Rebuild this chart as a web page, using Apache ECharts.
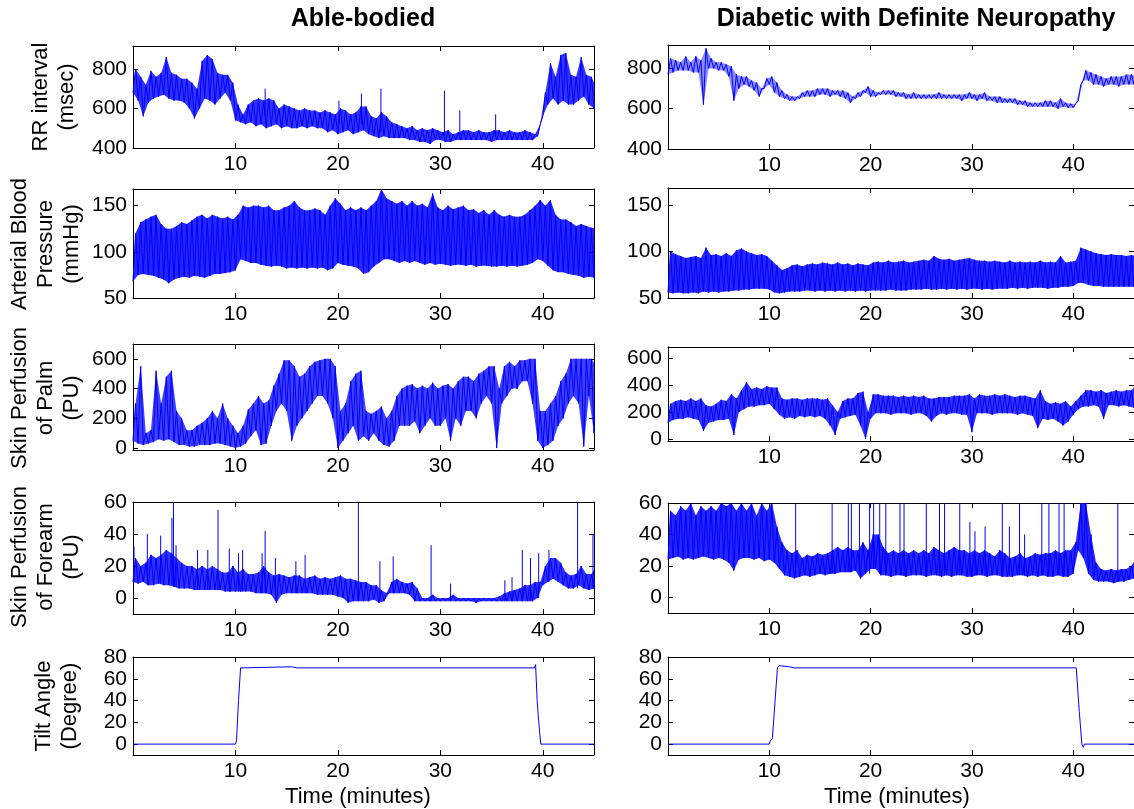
<!DOCTYPE html>
<html><head><meta charset="utf-8">
<script src="https://cdn.jsdelivr.net/npm/echarts@6/dist/echarts.min.js"></script>
<style>html,body{margin:0;padding:0;background:#fff}#c{width:1134px;height:809px}</style>
</head><body><div id="c"></div>
<script>
// ---------------- DATA (sample step 0.5 min) ----------------
const STEP = 0.5;
const xTicks = [10, 20, 30, 40];
const rrTicks = [400, 600, 800];
const bpTicks = [50, 100, 150];
const palmTicks = [0, 200, 400, 600];
const foreTicks = [0, 20, 40, 60];
const tiltTicks = [0, 20, 40, 60, 80];

// RR interval, able-bodied (0..45 min)
const rrAbleLo = [680,640,560,630,650,660,670,650,640,640, 630,600,550,600,650,640,620,650,680,640,
  540,530,520,530,510,520,500,510,520,500, 510,500,500,510,500,510,500,500,480,490,
  470,480,490,470,480,490,470,460,450,460, 450,450,450,450,440,440,430,430,420,440,
  440,430,430,440,440,440,440,440,440,440, 430,440,440,440,440,440,440,440,440,460,
  560,620,650,620,640,620,620,640,660,620, 600];
const rrAbleHi = [800,760,720,790,760,780,860,780,770,750, 750,730,700,840,870,850,780,770,770,730,
  620,570,620,640,650,640,650,640,600,620, 610,600,590,600,590,590,580,590,580,570,
  600,590,570,580,610,610,560,550,580,560, 530,520,510,500,510,490,500,490,500,490,
  480,490,470,480,490,490,480,490,480,480, 490,490,480,490,480,480,490,480,470,520,
  680,830,760,870,880,770,760,860,770,760, 700];
const rrAbleSpikes = [[12.9,560,700],[20.1,520,640],[22.3,520,675],[24.2,480,700],[30.4,460,690],[31.9,460,590],[35.4,460,570]];

// RR interval, diabetic (0..46 min)
const rrDiabLo = [770,780,790,790,790,780,780,620,800,800, 790,790,760,640,700,720,710,690,660,700,
  720,680,660,650,640,640,650,660,660,660, 670,670,660,670,660,650,630,650,660,680,
  660,660,670,670,670,660,660,650,650,650, 650,650,650,650,650,650,650,650,640,650,
  650,640,650,640,640,630,630,630,630,620, 620,610,610,610,610,610,610,600,610,605,
  605,640,740,740,720,720,710,720,720,710, 720,720,720];
const rrDiabHi = [850,840,830,860,830,860,840,900,850,830, 830,820,810,770,760,760,740,730,700,750,
  760,730,690,670,660,660,680,690,690,700, 700,700,690,690,690,680,660,680,690,710,
  690,680,690,690,690,680,680,670,680,670, 670,670,670,680,670,670,670,670,670,680,
  670,670,680,660,660,660,650,650,650,640, 640,630,630,630,640,640,630,650,630,625,
  625,720,790,780,770,760,750,760,760,760, 770,770,760];

// Arterial blood pressure
const bpAbleLo = [68,75,76,75,74,72,70,66,70,72, 73,72,74,73,72,74,76,76,77,78,
  80,92,90,88,88,86,85,84,85,84, 82,83,82,83,82,83,82,83,80,82,
  88,86,85,84,82,76,78,84,88,92, 92,90,88,90,88,90,88,86,88,86,
  87,86,85,86,86,85,86,84,85,85, 84,84,85,84,85,84,85,86,88,92,
  90,85,80,78,78,76,75,74,72,73, 72];
const bpAbleHi = [120,132,135,138,140,130,125,125,128,132, 130,134,138,140,136,140,138,136,138,135,
  140,150,148,150,150,148,150,145,145,148, 150,155,148,145,145,147,145,140,150,158,
  152,145,148,145,148,145,150,155,168,158, 155,152,155,150,155,150,152,148,163,148,
  145,150,146,148,150,145,146,142,145,140, 145,140,138,140,138,138,140,145,150,156,
  150,156,140,135,135,132,128,130,128,126, 125];
const bpDiabLo = [56,55,56,55,55,56,55,57,56,57, 56,57,57,58,58,59,59,60,60,60,
  59,56,55,56,57,57,57,58,58,57, 58,57,58,57,58,57,58,57,58,57,
  58,58,58,58,59,58,58,58,59,59, 59,60,59,59,60,59,60,59,60,59,
  60,60,59,60,59,60,60,60,61,60, 61,60,61,61,61,60,61,61,62,62,
  63,66,66,64,63,63,62,62,62,62, 62,62,62];
const bpDiabHi = [100,97,95,93,94,95,93,104,96,97, 95,98,95,101,103,100,98,96,97,95,
  90,85,80,82,85,86,84,86,87,86, 88,87,86,88,86,87,85,87,86,85,
  88,89,88,90,88,89,90,88,89,90, 91,90,95,92,91,92,90,91,92,93,
  91,90,90,89,90,89,88,90,88,89, 88,89,88,90,88,89,88,95,88,89,
  90,104,102,100,98,97,96,97,96,96, 95,96,95];

// Skin perfusion of palm
const palmAbleLo = [50,30,20,30,40,60,50,60,40,20, 20,10,10,20,20,20,30,30,20,10,
  0,10,30,80,120,20,30,150,250,300, 250,50,150,200,250,300,350,350,300,200,
  0,50,100,150,50,80,50,100,50,20, 10,50,150,150,150,180,100,150,200,150,
  150,200,50,200,150,250,250,200,300,350, 300,0,300,350,400,400,450,450,300,50,
  0,20,50,150,200,300,350,300,10,350, 100];
const palmAbleHi = [300,550,100,120,520,300,480,520,250,200, 120,120,150,170,200,250,200,300,200,150,
  100,150,260,300,350,300,320,420,500,590, 590,550,480,500,550,580,590,600,600,550,
  250,300,450,500,520,250,230,250,280,200, 250,350,400,420,430,400,420,400,440,400,
  420,430,400,450,480,480,450,500,520,550, 550,400,550,580,550,590,590,600,600,250,
  250,300,350,450,500,600,600,600,600,600, 550];
const palmDiabLo = [120,140,150,150,160,150,140,60,120,130, 140,140,150,30,200,220,240,240,250,250,
  260,220,180,150,160,150,170,160,170,160, 170,150,100,30,150,160,170,180,100,0,
  150,190,190,190,180,190,190,190,180,190, 190,170,130,170,190,180,190,190,180,180,
  50,190,190,190,180,190,190,190,190,180, 190,180,170,80,150,140,150,130,100,130,
  180,220,240,240,250,240,150,250,250,240, 250,240,230];
const palmDiabHi = [260,280,290,280,300,280,300,250,240,260, 290,280,330,300,360,420,370,380,370,390,
  380,380,300,290,300,300,290,300,300,300, 290,300,250,200,280,300,300,340,350,200,
  330,330,320,320,320,310,320,310,320,310, 320,300,300,310,310,310,320,320,320,330,
  300,330,320,320,330,320,330,320,310,320, 320,310,300,360,280,260,270,260,280,240,
  280,320,360,360,350,360,340,350,360,350, 360,360,400];

// Skin perfusion of forearm
const foreAbleLo = [10,9,10,8,8,9,8,8,7,6, 6,6,5,5,5,5,5,5,4,4,
  4,4,4,4,3,3,3,2,-3,2, 3,3,3,3,3,3,2,2,2,2,
  1,0,-3,-2,-2,-2,-2,-1,-3,-2, 3,3,3,3,2,-2,-2,-2,-2,-2,
  -2,-2,-2,-2,-2,-2,-2,-3,-2,-2, -2,-2,-2,-2,-2,-2,-2,-2,-2,0,
  8,10,12,10,8,6,6,8,6,5, 6];
const foreAbleHi = [25,20,22,27,25,27,30,28,25,22, 20,20,18,20,18,20,18,16,16,20,
  16,18,15,15,16,20,16,14,15,14, 13,14,14,12,13,14,12,13,12,13,
  14,12,12,11,10,10,8,8,5,3, 10,12,10,9,10,6,0,0,2,0,
  0,0,2,0,0,0,0,0,0,0, 0,1,3,4,5,6,8,8,10,10,
  20,25,25,22,16,14,15,20,15,15, 20];
const foreAbleSpikes = [[0.1,10,32],[1.4,8,40],[2.7,9,39],[3.8,8,50],[3.95,8,60],[4.2,7,33],[6.3,5,30],[7.3,5,30],
  [8.3,5,55],[9.4,4,31],[10.3,4,28],[10.7,4,30],[12.6,3,28],[12.9,3,42],[13.9,2,25],[15.9,3,23],[16.8,3,27],
  [22.0,-2,60],[24.1,-2,23],[25.4,3,26],[29.1,-2,33],[31.0,-2,9],[36.3,-2,11],[37.0,-2,13],[38.0,-2,30],
  [38.8,-2,25],[39.6,0,28],[40.6,10,30],[43.4,6,60],[44.9,6,40]];
const foreDiabLo = [24,25,26,24,25,24,25,26,25,24, 25,24,22,17,24,25,25,24,25,23,
  24,22,18,14,13,12,13,14,13,14, 15,14,15,15,16,16,16,17,12,15,
  18,18,14,14,13,14,14,13,14,14, 14,13,14,14,13,14,13,14,14,13,
  13,14,14,13,14,14,13,13,13,14, 14,13,14,13,14,13,13,14,13,13,
  15,30,25,15,11,10,10,10,9,10, 10,11,12];
const foreDiabHi = [55,52,58,55,60,52,58,55,58,55, 60,58,60,55,60,55,60,52,60,55,
  60,45,35,30,28,30,25,27,26,28, 27,28,30,32,30,32,30,30,35,30,
  40,40,32,28,30,28,30,28,30,28, 30,28,32,30,28,30,32,30,30,28,
  30,28,30,28,26,30,28,25,26,28, 25,26,28,27,28,28,30,28,30,30,
  35,60,60,40,22,18,17,18,17,18, 18,20,25];
const foreDiabSpikes = [[12.6,15,60],[16.2,15,60],[17.8,16,60],[18.1,16,60],[18.9,16,60],[19.9,15,60],[20.3,18,60],
  [20.9,15,60],[21.5,14,60],[22.9,14,60],[23.3,14,60],[25.5,14,60],[26.8,14,60],[27.3,14,60],[28.8,14,60],
  [29.8,14,48],[30.3,14,42],[31.3,14,45],[33.0,14,60],[33.7,14,45],[34.7,14,60],[35.2,14,40],[36.9,14,60],
  [37.6,14,60],[38.6,14,60],[39.1,14,60],[44.4,10,60]];

// Tilt angle [minute, degree]
const tiltAble = [[0,0],[10.0,0],[10.1,3],[10.3,40],[10.5,70],[15.5,71],[16,70],[39.2,70],[39.3,73],[39.45,40],[39.55,27],[39.8,0],[45,0]];
const tiltDiab = [[0,0],[10.0,0],[10.1,3],[10.3,5],[10.45,24],[10.55,25],[10.8,70],[11.0,72],[12,71],[12.5,70],[40.3,70],[40.6,30],[40.85,0],[41,-3],[41.1,0],[46,0]];

// ---------------- LAYOUT ----------------
const FONT = "'Liberation Sans', Arial, sans-serif";
const BLUE = '#0000ff';
const cols = [{left:133, width:461, xMax:45}, {left:668, width:466, xMax:46}];
const panels = [
  {col:0, top:46,  h:102, y:[400,916], ticks:rrTicks,  lo:rrAbleLo,  hi:rrAbleHi,  spikes:rrAbleSpikes, band:0.8},
  {col:1, top:45,  h:104, y:[400,916], ticks:rrTicks,  lo:rrDiabLo,  hi:rrDiabHi, band:0.45},
  {col:0, top:189, h:109, y:[50,168],  ticks:bpTicks,  lo:bpAbleLo,  hi:bpAbleHi, band:0.85},
  {col:1, top:188, h:110, y:[50,168],  ticks:bpTicks,  lo:bpDiabLo,  hi:bpDiabHi, band:0.85},
  {col:0, top:344, h:106, y:[-13,700], ticks:palmTicks, lo:palmAbleLo, hi:palmAbleHi, band:0.75},
  {col:1, top:347, h:94,  y:[-15,680], ticks:palmTicks, lo:palmDiabLo, hi:palmDiabHi, band:0.8},
  {col:0, top:502, h:112, y:[-10,60],  ticks:foreTicks, lo:foreAbleLo, hi:foreAbleHi, spikes:foreAbleSpikes, band:0.8},
  {col:1, top:503, h:110, y:[-10,60],  ticks:foreTicks, lo:foreDiabLo, hi:foreDiabHi, spikes:foreDiabSpikes, band:0.85},
  {col:0, top:657, h:98,  y:[-10,80],  ticks:tiltTicks, line:tiltAble},
  {col:1, top:657, h:98,  y:[-10,80],  ticks:tiltTicks, line:tiltDiab}
];

const grid = [], xAxis = [], yAxis = [], series = [];
function axisCommon(ticks, showLabel, pos) {
  return {
    position: pos,
    axisLine: {show:true, onZero:false, lineStyle:{color:'#000', width:1}},
    axisTick: {show:true, inside:true, length:5, customValues:ticks, lineStyle:{color:'#000'}},
    axisLabel: {show:showLabel, customValues:ticks, color:'#000', fontSize:21, fontFamily:FONT, margin:6},
    splitLine: {show:false}
  };
}
panels.forEach((p, gi) => {
  const c = cols[p.col];
  grid.push({left:c.left, top:p.top, width:c.width, height:p.h, show:false});
  xAxis.push(Object.assign({gridIndex:gi, type:'value', min:0, max:c.xMax}, axisCommon(xTicks, true, 'bottom')));
  xAxis.push(Object.assign({gridIndex:gi, type:'value', min:0, max:c.xMax}, axisCommon(xTicks, false, 'top')));
  yAxis.push(Object.assign({gridIndex:gi, type:'value', min:p.y[0], max:p.y[1]}, axisCommon(p.ticks, true, 'left')));
  yAxis.push(Object.assign({gridIndex:gi, type:'value', min:p.y[0], max:p.y[1]}, axisCommon(p.ticks, false, 'right')));
  const xi = gi * 2, yi = gi * 2;
  if (p.line) {
    series.push({type:'line', xAxisIndex:xi, yAxisIndex:yi, data:p.line, showSymbol:false, symbol:'none',
      lineStyle:{color:BLUE, width:1}, animation:false, silent:true});
    return;
  }
  if (p.band) {
    const lo = p.lo, hi = p.hi, op = p.band;
    series.push({type:'custom', xAxisIndex:xi, yAxisIndex:yi, data:[[0, lo[0]]], animation:false, silent:true, clip:true,
      renderItem: (params, api) => {
        const pts = [];
        for (let i = 0; i < hi.length; i++) pts.push(api.coord([i * STEP + STEP / 2, hi[i]]));
        for (let i = lo.length - 1; i >= 0; i--) pts.push(api.coord([i * STEP, lo[i]]));
        return {type:'polygon', shape:{points:pts}, style:{fill:'rgba(0,0,255,' + op + ')'}};
      }});
  }
  const zig = [];
  for (let i = 0; i < p.lo.length; i++) {
    zig.push([i * STEP, p.lo[i]]);
    zig.push([i * STEP + STEP / 2, p.hi[i]]);
  }
  series.push({type:'line', xAxisIndex:xi, yAxisIndex:yi, data:zig, showSymbol:false, symbol:'none',
    lineStyle:{color:BLUE, width:1}, animation:false, silent:true});
  if (p.spikes) {
    const sd = [];
    p.spikes.forEach(s => { sd.push([s[0], s[1]]); sd.push([s[0], s[2]]); sd.push([s[0], '-']); });
    series.push({type:'line', xAxisIndex:xi, yAxisIndex:yi, data:sd, showSymbol:false, symbol:'none', connectNulls:false,
      lineStyle:{color:BLUE, width:1}, animation:false, silent:true});
  }
});

// texts
const graphic = [];
function txt(x, y, text, size, bold, rot) {
  graphic.push({type:'text', x:x, y:y, rotation: rot ? Math.PI / 2 : 0, silent:true,
    style:{text:text, fontSize:size, fontFamily:FONT, fontWeight: bold ? 'bold' : 'normal', fill:'#000',
      align:'center', verticalAlign:'middle', lineHeight:26}});
}
txt(363, 19, 'Able-bodied', 25, true, false);
txt(916, 19, 'Diabetic with Definite Neuropathy', 25, true, false);
txt(54, 97, 'RR interval\n(msec)', 22, false, true);
txt(46, 244, 'Arterial Blood\nPressure\n(mmHg)', 22, false, true);
txt(46, 398, 'Skin Perfusion\nof Palm\n(PU)', 22, false, true);
txt(46, 557, 'Skin Perfusion\nof Forearm\n(PU)', 22, false, true);
txt(57, 706, 'Tilt Angle\n(Degree)', 22, false, true);
txt(358, 797, 'Time (minutes)', 22, false, false);
txt(897, 797, 'Time (minutes)', 22, false, false);

const chart = echarts.init(document.getElementById('c'));
chart.setOption({animation:false, backgroundColor:'#fff', grid, xAxis, yAxis, series, graphic});
</script></body></html>
